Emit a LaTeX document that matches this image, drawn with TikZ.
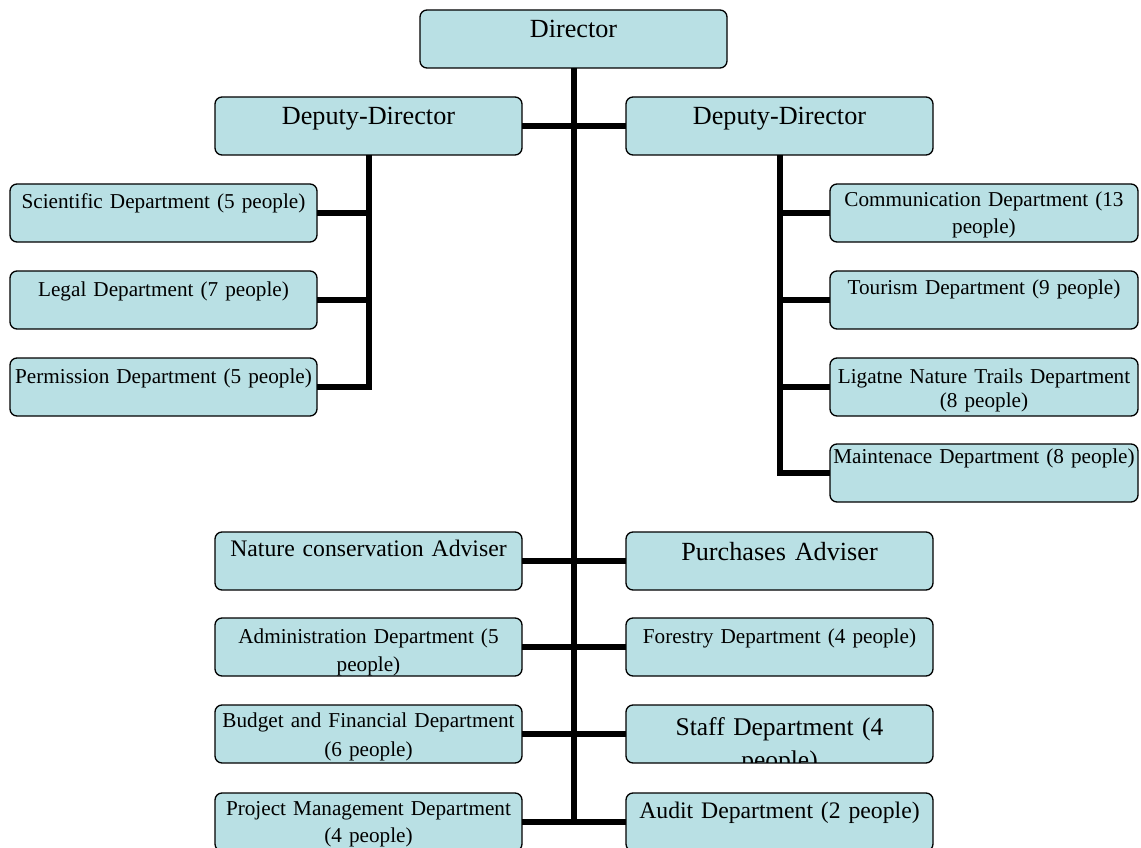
\documentclass[tikz,border=0pt]{standalone}
\usepackage{fontspec}
\setmainfont{Liberation Serif}
\usetikzlibrary{calc}
\definecolor{boxfill}{RGB}{185,224,228}
\tikzset{
  box/.style={draw=black, line width=1.3pt, fill=boxfill, rounded corners=7pt,
    inner sep=0pt, outer sep=0pt, anchor=north west, minimum height=58pt, minimum width=307pt},
  conn/.style={line width=6pt, draw=black},
  lbl/.style={anchor=base, align=center, text width=310pt, inner sep=0pt},
  small/.style={font=\fontsize{21.2}{27}\selectfont},
  mid/.style={font=\fontsize{23.7}{28}\selectfont},
  big/.style={font=\fontsize{26.2}{31}\selectfont},
}
\begin{document}
\begin{tikzpicture}[x=1pt,y=-1pt]
\clip (0,0) rectangle (1141,848);
% boxes
\node[box] (dir) at (420,10) {};
\node[box] (depL) at (215,97) {};
\node[box] (depR) at (626,97) {};
\node[box] (sci) at (10,184) {};
\node[box] (legal) at (10,271) {};
\node[box] (perm) at (10,358) {};
\node[box, minimum width=308pt] (comm) at (830,184) {};
\node[box, minimum width=308pt] (tour) at (830,271) {};
\node[box, minimum width=308pt] (lig) at (830,358) {};
\node[box, minimum width=308pt] (maint) at (830,444) {};
\node[box] (nat) at (215,532) {};
\node[box] (purch) at (626,532) {};
\node[box] (admin) at (215,618) {};
\node[box] (forest) at (626,618) {};
\node[box] (budget) at (215,705) {};
\node[box] (staff) at (626,705) {};
\node[box] (proj) at (215,793) {};
\node[box] (audit) at (626,793) {};
% connectors
\coordinate (cend) at (dir.south |- proj.east);
\draw[conn] (dir.south) -- (cend);
\draw[conn] (depL.east) -- (depR.west);
\draw[conn] (depL.south) |- (perm.east);
\draw[conn] (sci.east) -- (sci.east -| depL.south);
\draw[conn] (legal.east) -- (legal.east -| depL.south);
\draw[conn] (depR.south) |- (maint.west);
\draw[conn] (comm.west) -- (comm.west -| depR.south);
\draw[conn] (tour.west) -- (tour.west -| depR.south);
\draw[conn] (lig.west) -- (lig.west -| depR.south);
\draw[conn] (nat.east) -- (purch.west);
\draw[conn] (admin.east) -- (forest.west);
\draw[conn] (budget.east) -- (staff.west);
\draw[conn] (proj.east) -- (audit.west);
% texts
\node[lbl, big] at ([yshift=-28pt]dir.north) {Director};
\node[lbl, big] at ([yshift=-28pt]depL.north) {Deputy-Director};
\node[lbl, big] at ([yshift=-28pt]depR.north) {Deputy-Director};
\node[lbl, small] at ([yshift=-24pt]sci.north) {Scientific Department (5 people)};
\node[lbl, small] at ([yshift=-25pt]legal.north) {Legal Department (7 people)};
\node[lbl, small] at ([yshift=-25pt]perm.north) {Permission Department (5 people)};
\node[lbl, small] at ([yshift=-23pt]comm.north) {Communication Department (13\\people)};
\node[lbl, small] at ([yshift=-23pt]tour.north) {Tourism Department (9 people)};
\node[lbl, font=\fontsize{21.2}{24.5}\selectfont] at ([yshift=-25pt]lig.north) {Ligatne Nature Trails Department\\(8 people)};
\node[lbl, small] at ([yshift=-19pt]maint.north) {Maintenace Department (8 people)};
\node[lbl, mid] at ([yshift=-24pt]nat.north) {Nature conservation Adviser};
\node[lbl, big] at ([yshift=-28pt]purch.north) {Purchases Adviser};
\node[lbl, font=\fontsize{21.2}{28}\selectfont] at ([yshift=-25pt]admin.north) {Administration Department (5\\people)};
\node[lbl, small] at ([yshift=-25pt]forest.north) {Forestry Department (4 people)};
\node[lbl, font=\fontsize{21.2}{29}\selectfont] at ([yshift=-22pt]budget.north) {Budget and Financial Department\\(6 people)};
\begin{scope}
  \clip ([yshift=0.7pt]staff.south west) rectangle (staff.north east);
  \node[lbl, font=\fontsize{25.5}{33.5}\selectfont] at ([yshift=-30pt]staff.north) {Staff Department (4\\people)};
\end{scope}
\node[lbl, font=\fontsize{21.2}{27}\selectfont] at ([yshift=-22pt]proj.north) {Project Management Department\\(4 people)};
\node[lbl, mid] at ([yshift=-25pt]audit.north) {Audit Department (2 people)};
\end{tikzpicture}
\end{document}
